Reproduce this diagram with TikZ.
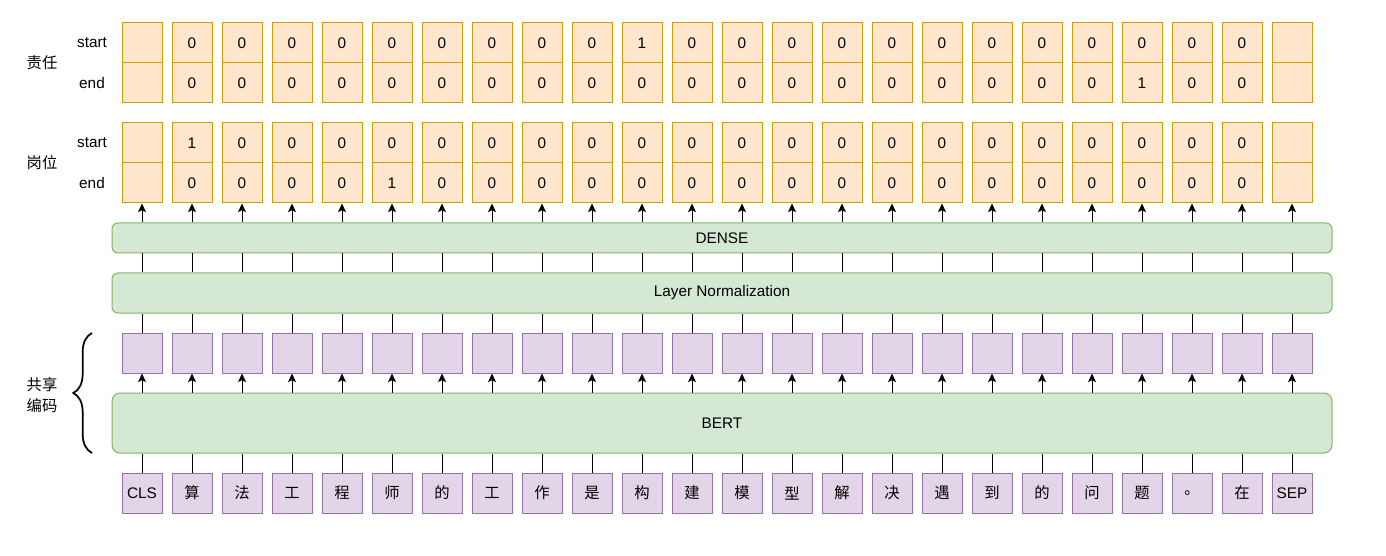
\documentclass[tikz,border=0pt]{standalone}
\usepackage{fontspec}
\setmainfont{Liberation Sans}
\newfontfamily\cjk{Noto Sans CJK SC}
\usetikzlibrary{arrows.meta,decorations.pathreplacing}
\definecolor{orfill}{HTML}{FFE6CC}
\definecolor{ordraw}{HTML}{D79B00}
\definecolor{pufill}{HTML}{E1D5E7}
\definecolor{pudraw}{HTML}{9673A6}
\definecolor{grfill}{HTML}{D5E8D4}
\definecolor{grdraw}{HTML}{82B366}
\tikzset{
  txt/.style={font=\fontsize{11.5}{13}\selectfont},
  cell/.style={txt,draw=ordraw,fill=orfill,line width=0.75pt,minimum width=30pt,minimum height=30pt,inner sep=0pt},
  pbox/.style={txt,draw=pudraw,fill=pufill,line width=0.75pt,minimum width=30pt,minimum height=30pt,inner sep=0pt},
  gbox/.style={txt,draw=grdraw,fill=grfill,line width=0.75pt,rounded corners=4.5pt,minimum width=915pt,inner sep=0pt},
  lbl/.style={txt,inner sep=0pt},
  conn/.style={line width=0.75pt,black},
  arr/.style={conn,-{Stealth[length=6.5pt,width=6pt,inset=1.5pt]}},
}
\begin{document}
\begin{tikzpicture}[x=0.75pt,y=-0.75pt]
\useasboundingbox (0,0) rectangle (1386,556);
% row labels
\node[lbl] (lr) at (42,63) {\cjk 责任};
\node[lbl] (lg) at (42,163) {\cjk 岗位};
\node[lbl] (ls1) at (92,43) {start};
\node[lbl] (le1) at (92,83) {end};
\node[lbl] (ls2) at (92,143) {start};
\node[lbl] (le2) at (92,183) {end};
\node[lbl,align=center,font=\fontsize{11.5}{16}\selectfont] (lenc) at (42,395) {\cjk 共享\\\cjk 编码};
% tables
\foreach \v [count=\i from 0] in {{},0,0,0,0,0,0,0,0,0,1,0,0,0,0,0,0,0,0,0,0,0,0,{}}
  \node[cell] (a\i) at ({142+50*\i},43) {\v};
\foreach \v [count=\i from 0] in {{},0,0,0,0,0,0,0,0,0,0,0,0,0,0,0,0,0,0,0,1,0,0,{}}
  \node[cell] (b\i) at ({142+50*\i},83) {\v};
\foreach \v [count=\i from 0] in {{},1,0,0,0,0,0,0,0,0,0,0,0,0,0,0,0,0,0,0,0,0,0,{}}
  \node[cell] (c\i) at ({142+50*\i},143) {\v};
\foreach \v [count=\i from 0] in {{},0,0,0,0,1,0,0,0,0,0,0,0,0,0,0,0,0,0,0,0,0,0,{}}
  \node[cell] (d\i) at ({142+50*\i},183) {\v};
% green layers
\node[gbox,minimum height=22.5pt] (dense) at (722,238) {DENSE};
\node[gbox,minimum height=30pt] (ln) at (722,293) {Layer Normalization};
\node[gbox,minimum height=45pt,rounded corners=6pt] (bert) at (722,423) {BERT};
% hidden states
\foreach \i in {0,...,23}
  \node[pbox] (h\i) at ({142+50*\i},353) {};
% tokens
\foreach \t [count=\i from 0] in {CLS,{\cjk 算},{\cjk 法},{\cjk 工},{\cjk 程},{\cjk 师},{\cjk 的},{\cjk 工},{\cjk 作},{\cjk 是},{\cjk 构},{\cjk 建},{\cjk 模},{\cjk 型},{\cjk 解},{\cjk 决},{\cjk 遇},{\cjk 到},{\cjk 的},{\cjk 问},{\cjk 题},{\cjk 。},{\cjk 在},SEP}
  \node[pbox] (t\i) at ({142+50*\i},493) {\t};
% connectors
\foreach \i in {0,...,23} {
  \draw[conn] (t\i.north) -- (bert.south -| t\i);
  \draw[arr] (bert.north -| h\i) -- (h\i.south);
  \draw[conn] (h\i.north) -- (ln.south -| h\i);
  \draw[conn] (ln.north -| h\i) -- (dense.south -| h\i);
  \draw[arr] (dense.north -| d\i) -- (d\i.south);
}
% brace
\coordinate (bra) at (92,453);
\coordinate (brb) at (92,333);
\draw[line width=1.3pt,decorate,decoration={brace,amplitude=14pt}] (bra) -- (brb);
\end{tikzpicture}
\end{document}
